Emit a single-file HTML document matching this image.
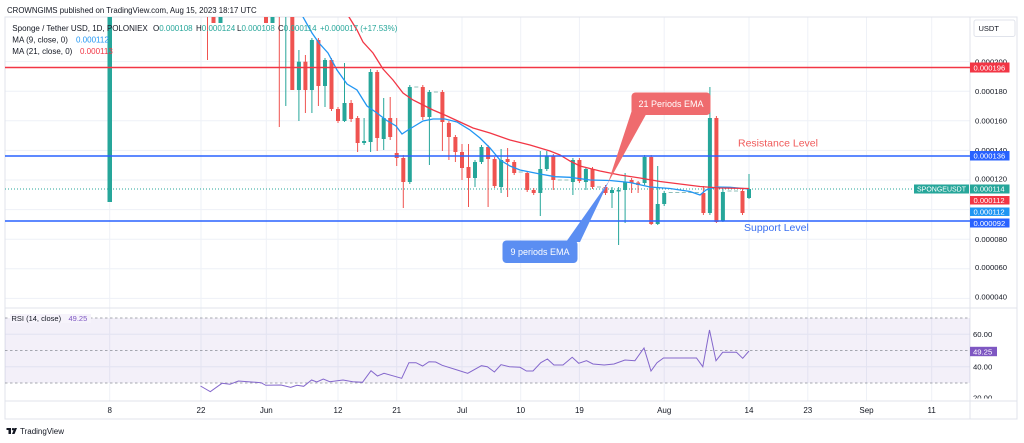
<!DOCTYPE html>
<html><head><meta charset="utf-8"><style>
html,body{margin:0;padding:0;background:#fff;}
svg{display:block;font-family:"Liberation Sans",sans-serif;}
</style></head><body>
<svg width="1024" height="443" viewBox="0 0 1024 443" xmlns="http://www.w3.org/2000/svg">
<rect width="1024" height="443" fill="#fff"/>
<defs>
<clipPath id="main"><rect x="5" y="17" width="965" height="291"/></clipPath>
<clipPath id="rsi"><rect x="5" y="308" width="965" height="93"/></clipPath>
</defs>

<!-- grid -->
<g stroke="#eef1f7" stroke-width="1">
<line x1="109.7" y1="17" x2="109.7" y2="401"/><line x1="201" y1="17" x2="201" y2="401"/>
<line x1="266.3" y1="17" x2="266.3" y2="401"/><line x1="338" y1="17" x2="338" y2="401"/>
<line x1="396.7" y1="17" x2="396.7" y2="401"/><line x1="462" y1="17" x2="462" y2="401"/>
<line x1="520.7" y1="17" x2="520.7" y2="401"/><line x1="579.4" y1="17" x2="579.4" y2="401"/>
<line x1="664.2" y1="17" x2="664.2" y2="401"/><line x1="749" y1="17" x2="749" y2="401"/>
<line x1="807.8" y1="17" x2="807.8" y2="401"/><line x1="866.5" y1="17" x2="866.5" y2="401"/>
<line x1="931.7" y1="17" x2="931.7" y2="401"/>
<line x1="5" y1="61.6" x2="970" y2="61.6"/><line x1="5" y1="91.2" x2="970" y2="91.2"/>
<line x1="5" y1="120.8" x2="970" y2="120.8"/><line x1="5" y1="150.4" x2="970" y2="150.4"/>
<line x1="5" y1="180" x2="970" y2="180"/><line x1="5" y1="209.6" x2="970" y2="209.6"/>
<line x1="5" y1="239.2" x2="970" y2="239.2"/><line x1="5" y1="268.8" x2="970" y2="268.8"/>
<line x1="5" y1="298.4" x2="970" y2="298.4"/>
<line x1="5" y1="334.3" x2="970" y2="334.3"/><line x1="5" y1="366.8" x2="970" y2="366.8"/>
</g>

<!-- frame -->
<rect x="5" y="17" width="1012" height="402" fill="none" stroke="#e0e3eb" stroke-width="1"/>
<line x1="970" y1="17" x2="970" y2="419" stroke="#e0e3eb"/>
<line x1="5" y1="308" x2="1017" y2="308" stroke="#e0e3eb"/>
<line x1="5" y1="401" x2="1017" y2="401" stroke="#e0e3eb"/>

<!-- current price dotted -->
<line x1="5" y1="189" x2="914" y2="189" stroke="#26a69a" stroke-width="1" stroke-dasharray="1 2"/>

<g clip-path="url(#main)">
<!-- green candles -->
<g fill="#26a69a">
<rect x="107.5" y="17" width="4.5" height="185"/>
<rect x="218.5" y="17" width="4" height="6"/><rect x="270.5" y="17" width="4" height="6"/>
<rect x="285.3" y="17" width="1" height="89"/>
<rect x="298.4" y="50" width="1" height="71"/><rect x="296.9" y="61.7" width="4" height="28.3"/>
<rect x="311.4" y="38" width="1" height="75"/><rect x="309.9" y="40" width="4" height="50"/>
<rect x="324.5" y="58" width="1" height="49"/><rect x="323" y="60" width="4" height="26"/>
<rect x="344" y="63" width="1" height="59"/><rect x="342.5" y="103" width="4" height="18"/>
<rect x="363.6" y="118" width="1" height="27"/><rect x="362.1" y="141" width="4" height="2"/>
<rect x="370.1" y="69" width="1" height="83"/><rect x="368.6" y="72" width="4" height="70"/>
<rect x="383.2" y="98" width="1" height="52"/><rect x="381.7" y="118" width="4" height="21"/>
<rect x="409.3" y="85" width="1" height="99"/><rect x="407.8" y="87" width="4" height="95"/>
<rect x="428.9" y="90" width="1" height="75"/><rect x="427.4" y="92" width="4" height="25"/>
<rect x="474.5" y="160" width="1" height="27"/><rect x="473" y="162" width="4" height="16"/>
<rect x="481" y="145" width="1" height="19"/><rect x="479.5" y="147" width="4" height="15"/>
<rect x="500.6" y="149" width="1" height="44"/><rect x="499.1" y="160" width="4" height="27"/>
<rect x="539.8" y="151" width="1" height="65"/><rect x="538.3" y="169" width="4" height="24"/>
<rect x="546.3" y="151" width="1" height="20"/><rect x="544.8" y="156" width="4" height="13"/>
<rect x="572.4" y="158" width="1" height="37"/><rect x="570.9" y="160" width="4" height="22"/>
<rect x="585.4" y="167" width="1" height="23"/><rect x="583.9" y="169" width="4" height="13"/>
<rect x="611.5" y="187" width="1" height="21"/><rect x="610" y="190" width="4" height="3"/>
<rect x="618.1" y="187" width="1" height="58"/><rect x="616.6" y="190" width="4" height="1.5"/>
<rect x="624.6" y="173" width="1" height="50"/><rect x="623.1" y="182" width="4" height="8"/>
<rect x="644.1" y="155" width="1" height="30"/><rect x="642.6" y="157" width="4" height="26"/>
<rect x="657.2" y="166" width="1" height="59"/><rect x="655.7" y="204" width="4" height="20"/>
<rect x="663.7" y="191" width="1" height="15"/><rect x="662.2" y="193" width="4" height="11"/>
<rect x="709.4" y="87" width="1" height="128"/><rect x="707.9" y="118" width="4" height="95"/>
<rect x="722.4" y="189" width="1" height="33"/><rect x="720.9" y="192" width="4" height="29"/>
<rect x="748.5" y="174" width="1" height="25"/><rect x="747" y="189" width="4" height="9"/>
</g>
<!-- red candles -->
<g fill="#ef5350">
<rect x="207" y="17" width="1" height="43"/>
<rect x="211.5" y="17" width="4" height="6"/><rect x="264" y="17" width="4" height="6"/>
<rect x="278.8" y="17" width="1" height="110"/>
<rect x="290.3" y="17" width="4" height="73"/>
<rect x="304.9" y="55" width="1" height="58"/><rect x="303.4" y="61.7" width="4" height="28.3"/>
<rect x="317.9" y="38" width="1" height="68"/><rect x="316.4" y="40" width="4" height="46"/>
<rect x="331" y="58" width="1" height="53"/><rect x="329.5" y="60" width="4" height="49"/>
<rect x="337.5" y="107" width="1" height="16"/><rect x="336" y="109" width="4" height="12"/>
<rect x="350.6" y="100" width="1" height="22"/><rect x="349.1" y="103" width="4" height="16"/>
<rect x="357.1" y="116" width="1" height="36"/><rect x="355.6" y="118" width="4" height="25"/>
<rect x="376.7" y="70" width="1" height="81"/><rect x="375.2" y="72" width="4" height="66"/>
<rect x="389.7" y="97" width="1" height="43"/><rect x="388.2" y="118" width="4" height="19"/>
<rect x="396.2" y="118" width="1" height="48"/><rect x="394.7" y="153" width="4" height="5"/>
<rect x="402.8" y="155" width="1" height="53"/><rect x="401.3" y="158" width="4" height="24"/>
<rect x="422.3" y="85" width="1" height="35"/><rect x="420.8" y="87" width="4" height="30"/>
<rect x="441.9" y="90" width="1" height="61"/><rect x="440.4" y="92" width="4" height="30"/>
<rect x="448.4" y="121" width="1" height="39"/><rect x="446.9" y="123" width="4" height="14"/>
<rect x="454.9" y="135" width="1" height="27"/><rect x="453.4" y="137" width="4" height="15"/>
<rect x="461.5" y="144" width="1" height="36"/><rect x="460" y="152" width="4" height="16"/>
<rect x="468" y="144" width="1" height="63"/><rect x="466.5" y="167" width="4" height="11"/>
<rect x="487.6" y="145" width="1" height="62"/><rect x="486.1" y="147" width="4" height="12"/>
<rect x="494.1" y="157" width="1" height="31"/><rect x="492.6" y="159" width="4" height="27"/>
<rect x="507.1" y="148" width="1" height="49"/><rect x="505.6" y="159" width="4" height="3"/>
<rect x="513.7" y="160" width="1" height="15"/><rect x="512.2" y="162" width="4" height="11"/>
<rect x="526.7" y="171" width="1" height="21"/><rect x="525.2" y="173" width="4" height="17"/>
<rect x="533.2" y="188" width="1" height="7"/><rect x="531.7" y="190" width="4" height="3"/>
<rect x="552.8" y="154" width="1" height="36"/><rect x="551.3" y="156" width="4" height="24"/>
<rect x="578.9" y="158" width="1" height="25"/><rect x="577.4" y="160" width="4" height="21"/>
<rect x="592" y="167" width="1" height="22"/><rect x="590.5" y="169" width="4" height="18"/>
<rect x="605" y="185" width="1" height="10"/><rect x="603.5" y="187" width="4" height="6"/>
<rect x="631.1" y="178" width="1" height="15"/><rect x="629.6" y="180" width="4" height="3"/>
<rect x="637.6" y="181" width="1" height="12"/><rect x="636.1" y="182.5" width="4" height="2.5"/>
<rect x="650.7" y="155" width="1" height="70"/><rect x="649.2" y="157" width="4" height="67"/>
<rect x="702.9" y="186" width="1" height="29"/><rect x="701.4" y="193" width="4" height="20"/>
<rect x="715.9" y="116" width="1" height="107"/><rect x="714.4" y="118" width="4" height="104"/>
<rect x="742" y="189" width="1" height="26"/><rect x="740.5" y="191" width="4" height="22"/>
</g>
<!-- flat candles -->
<g fill="#8fbfb9">
<rect x="414.3" y="86.5" width="4" height="1"/><rect x="433.9" y="91.5" width="4" height="1"/>
<rect x="518.7" y="171.5" width="4" height="1"/><rect x="557.8" y="179.5" width="4" height="1"/>
<rect x="564.4" y="179.5" width="4" height="1"/><rect x="597" y="186.5" width="4" height="1"/>
<rect x="668.7" y="192" width="4" height="1"/><rect x="675.3" y="192" width="4" height="1"/>
<rect x="681.8" y="192" width="4" height="1"/><rect x="688.3" y="192" width="4" height="1"/>
<rect x="694.8" y="192" width="4" height="1"/><rect x="727.5" y="190.5" width="4" height="1"/>
<rect x="734" y="190.5" width="4" height="1"/>
</g>

<!-- EMAs -->
<polyline fill="none" stroke="#2196f3" stroke-width="1.3" points="300,10 303,17 312,33 319,43 328,53 337,70 347,84 357,90 367,106 377,113 386,120 396,126 402,134 408,130 413,127 423,121 433,119 445,119 457,122 470,130 480,138 490,148 500,160 510,166 520,170 540,174 555,176.7 570,177.3 590,180 610,180.5 630,182.5 650,187 670,188.5 690,191.5 700,195 706,190 716,187 730,187.3 749,189"/>
<polyline fill="none" stroke="#f23645" stroke-width="1.3" points="345,10 349,17 357,30 363,42 373,53 383,69 393,80 403,93 413,100 423,105 433,110 447,116 460,122 473,128 490,133 510,140 530,145 550,151 560,155 570,161 580,166 600,171 620,175 640,178 660,181.5 680,184 700,186.5 720,188 749,188.5"/>

<!-- horizontal levels -->
<line x1="5" y1="67.5" x2="970" y2="67.5" stroke="#f23645" stroke-width="1.4"/>
<line x1="5" y1="156" x2="970" y2="156" stroke="#2962ff" stroke-width="1.4"/>
<line x1="5" y1="221" x2="970" y2="221" stroke="#2962ff" stroke-width="1.4"/>
</g>

<!-- callouts -->
<polygon points="632,110 646,114.5 608,183" fill="#ef6b6e"/>
<rect x="631.5" y="92.5" width="79" height="22.5" rx="4" fill="#ef6b6e"/>
<text x="671" y="106.8" font-size="9" fill="#fff" text-anchor="middle">21 Periods EMA</text>
<polygon points="566,242 580,242 609,181" fill="#5b8ef2"/>
<rect x="502.5" y="240.5" width="75" height="22.5" rx="4" fill="#5b8ef2"/>
<text x="540" y="254.8" font-size="9" fill="#fff" text-anchor="middle">9 periods EMA</text>

<text x="738" y="146.5" font-size="10.5" fill="#f05a5a">Resistance Level</text>
<text x="744" y="231.2" font-size="10.5" fill="#3a6ff0">Support Level</text>

<!-- header -->
<text x="7" y="13" font-size="7.85" fill="#131722">CROWNGIMS published on TradingView.com, Aug 15, 2023 18:17 UTC</text>
<g font-size="8" fill="#131722">
<text x="12.3" y="31">Sponge / Tether USD, 1D, POLONIEX</text>
<text x="153" y="31">O<tspan fill="#26a69a">0.000108</tspan></text>
<text x="196" y="31">H<tspan fill="#26a69a">0.000124</tspan></text>
<text x="237" y="31">L<tspan fill="#26a69a">0.000108</tspan></text>
<text x="278" y="31">C<tspan fill="#26a69a">0.000114</tspan></text>
<text x="320" y="31" fill="#26a69a">+0.000017 (+17.53%)</text>
<text x="12.3" y="42.3">MA (9, close, 0)</text>
<text x="76" y="42.3" fill="#2196f3">0.000112</text>
<text x="12.3" y="54">MA (21, close, 0)</text>
<text x="80" y="54" fill="#f23645">0.000113</text>
</g>

<!-- price axis -->
<rect x="974" y="20" width="41" height="16.5" rx="2" fill="#fff" stroke="#e0e3eb"/>
<text x="978.5" y="31" font-size="7.5" fill="#131722">USDT</text>
<g font-size="7.7" fill="#131722">
<text x="975" y="64.3">0.000200</text>
<text x="975" y="93.9">0.000180</text>
<text x="975" y="123.5">0.000160</text>
<text x="975" y="153">0.000140</text>
<text x="975" y="181.3">0.000120</text>
<text x="975" y="241.8">0.000080</text>
<text x="975" y="270.2">0.000060</text>
<text x="975" y="299.6">0.000040</text>
</g>
<rect x="970" y="62.5" width="39.5" height="10" fill="#f23645"/>
<rect x="970" y="151" width="39.5" height="9.5" fill="#2962ff"/>
<rect x="914" y="184.5" width="55" height="9" fill="#26a69a"/>
<rect x="970" y="184.5" width="39.5" height="9" fill="#26a69a"/>
<rect x="970" y="196" width="39.5" height="8.5" fill="#f23645"/>
<rect x="970" y="207.5" width="39.5" height="8.5" fill="#2196f3"/>
<rect x="970" y="218.5" width="39.5" height="9" fill="#2962ff"/>
<g font-size="7.6" fill="#fff">
<text x="973.5" y="70.3">0.000196</text>
<text x="973.5" y="158.5">0.000136</text>
<text x="917" y="191.7" font-size="7" textLength="49" lengthAdjust="spacingAndGlyphs">SPONGEUSDT</text>
<text x="973.5" y="191.7">0.000114</text>
<text x="973.5" y="203">0.000112</text>
<text x="973.5" y="214.5">0.000112</text>
<text x="973.5" y="225.8">0.000092</text>
</g>

<!-- RSI pane -->
<rect x="5" y="318" width="965" height="65" fill="#7e57c2" fill-opacity="0.09"/>
<g stroke="#8a8d96" stroke-width="0.8" stroke-dasharray="2.5 2.5">
<line x1="5" y1="318" x2="970" y2="318"/>
<line x1="5" y1="350.5" x2="970" y2="350.5"/>
<line x1="5" y1="383" x2="970" y2="383"/>
</g>
<g clip-path="url(#rsi)">
<polyline fill="none" stroke="#8467cc" stroke-width="1" points="200.5,386 210.3,391.7 222,383.3 230,384.3 238.4,381 248,381.7 261,382.7 265.8,385.3 281,385 290.7,387.3 297,385.3 303.7,386.3 311.6,380 316.8,382 323.3,379 329.8,381.7 343,380 352.7,381.7 362.5,382.3 371,370.7 377.5,376 384,373.3 401.7,378.3 408.9,362.7 416,362.7 422.6,366 429,361.7 435.7,362 442.2,365.3 457.2,370 467.7,373.3 481.4,365.7 487.3,366.7 494.4,372 501,364.7 509.5,366.7 520,367.3 526.5,371 533,371 540.8,362.7 547.4,359 553.9,365 563,365 572.2,357.3 578.7,363.3 586.5,360.7 593,364 604.2,365 614,364 625,360 634.9,360.7 644,348 651,371 657,362.7 663.5,358 696.5,358 702.8,366.7 709.5,330 716,360.7 722.7,352.3 736.5,352.3 742.7,358.3 749,351"/>
</g>
<rect x="10" y="314" width="81" height="9" fill="#f6f3fb"/>
<text x="11.5" y="321" font-size="7.5" fill="#131722">RSI (14, close)</text>
<text x="68.5" y="321" font-size="7.5" fill="#7e57c2">49.25</text>
<g font-size="7.7" fill="#131722">
<text x="973" y="337">60.00</text>
<text x="973" y="369.5">40.00</text>
<text x="973" y="400.5">20.00</text>
</g>
<rect x="970" y="346.8" width="27" height="9.4" fill="#7e57c2"/>
<text x="973" y="354.3" font-size="7.7" fill="#fff">49.25</text>
<rect x="971" y="398.5" width="45" height="2" fill="#fff"/>
<line x1="5" y1="401" x2="1017" y2="401" stroke="#e0e3eb"/>

<!-- time axis -->
<g font-size="8" fill="#131722" text-anchor="middle">
<text x="109.7" y="413">8</text><text x="201" y="413">22</text>
<text x="266.3" y="413">Jun</text><text x="338" y="413">12</text>
<text x="396.7" y="413">21</text><text x="462" y="413">Jul</text>
<text x="520.7" y="413">10</text><text x="579.4" y="413">19</text>
<text x="664.2" y="413">Aug</text><text x="749" y="413">14</text>
<text x="807.8" y="413">23</text><text x="866.5" y="413">Sep</text>
<text x="931.7" y="413">11</text>
</g>

<!-- TradingView logo -->
<g fill="#131722">
<rect x="6.5" y="428" width="4.5" height="2"/>
<rect x="8.5" y="428" width="2.5" height="6"/>
<circle cx="13" cy="429.2" r="1.2"/>
<polygon points="14.5,428 17,428 14.5,434 12,434"/>
</g>
<text x="20" y="434" font-size="8" fill="#131722">TradingView</text>
</svg>
</body></html>
